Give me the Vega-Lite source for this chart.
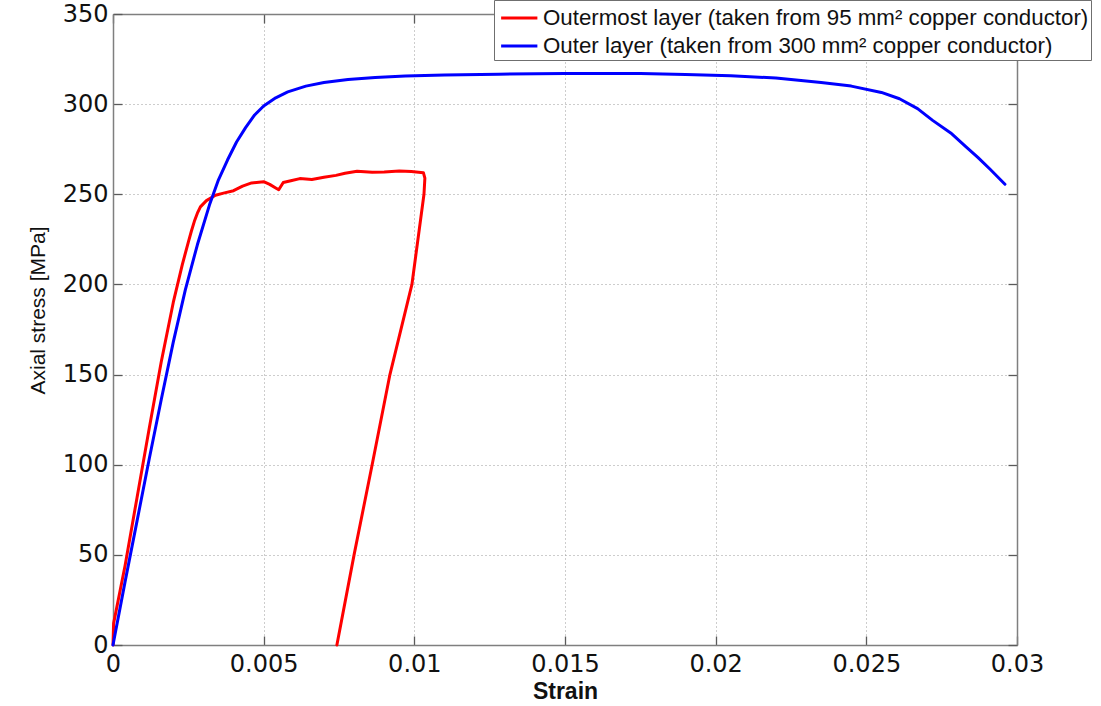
{
  "$schema": "https://vega.github.io/schema/vega-lite/v6.json",
  "width": 904,
  "height": 631,
  "autosize": {"type": "none"},
  "padding": {"left": 113, "top": 14, "right": 84, "bottom": 61},
  "background": "white",
  "config": {
    "view": {"stroke": null},
    "axis": {
      "domainColor": "#7f7f7f",
      "domainWidth": 1.5,
      "ticks": true,
      "tickColor": "#5a5a5a",
      "tickWidth": 1.3,
      "tickSize": -9,
      "gridColor": "#9a9a9a",
      "gridDash": [1, 3],
      "gridWidth": 1,
      "labelFont": "DejaVu Sans",
      "labelFontSize": 24,
      "labelColor": "#111111",
      "titleColor": "#111111"
    }
  },
  "datasets": {
    "outermost": [
      {"layer": "Outermost layer (taken from 95 mm² copper conductor)", "i": 0, "strain": 0, "stress": 0},
      {"layer": "Outermost layer (taken from 95 mm² copper conductor)", "i": 1, "strain": 0.00002, "stress": 12},
      {"layer": "Outermost layer (taken from 95 mm² copper conductor)", "i": 2, "strain": 0.0004, "stress": 44},
      {"layer": "Outermost layer (taken from 95 mm² copper conductor)", "i": 3, "strain": 0.0008, "stress": 82},
      {"layer": "Outermost layer (taken from 95 mm² copper conductor)", "i": 4, "strain": 0.0012, "stress": 120},
      {"layer": "Outermost layer (taken from 95 mm² copper conductor)", "i": 5, "strain": 0.0016, "stress": 157},
      {"layer": "Outermost layer (taken from 95 mm² copper conductor)", "i": 6, "strain": 0.002, "stress": 190},
      {"layer": "Outermost layer (taken from 95 mm² copper conductor)", "i": 7, "strain": 0.0023, "stress": 211},
      {"layer": "Outermost layer (taken from 95 mm² copper conductor)", "i": 8, "strain": 0.0025, "stress": 223.5},
      {"layer": "Outermost layer (taken from 95 mm² copper conductor)", "i": 9, "strain": 0.0026, "stress": 229.5},
      {"layer": "Outermost layer (taken from 95 mm² copper conductor)", "i": 10, "strain": 0.0027, "stress": 235},
      {"layer": "Outermost layer (taken from 95 mm² copper conductor)", "i": 11, "strain": 0.0028, "stress": 239.5},
      {"layer": "Outermost layer (taken from 95 mm² copper conductor)", "i": 12, "strain": 0.0029, "stress": 243},
      {"layer": "Outermost layer (taken from 95 mm² copper conductor)", "i": 13, "strain": 0.0031, "stress": 246.5},
      {"layer": "Outermost layer (taken from 95 mm² copper conductor)", "i": 14, "strain": 0.0034, "stress": 249.5},
      {"layer": "Outermost layer (taken from 95 mm² copper conductor)", "i": 15, "strain": 0.0037, "stress": 250.8},
      {"layer": "Outermost layer (taken from 95 mm² copper conductor)", "i": 16, "strain": 0.004, "stress": 252},
      {"layer": "Outermost layer (taken from 95 mm² copper conductor)", "i": 17, "strain": 0.0043, "stress": 254.5},
      {"layer": "Outermost layer (taken from 95 mm² copper conductor)", "i": 18, "strain": 0.0046, "stress": 256.3},
      {"layer": "Outermost layer (taken from 95 mm² copper conductor)", "i": 19, "strain": 0.005, "stress": 257},
      {"layer": "Outermost layer (taken from 95 mm² copper conductor)", "i": 20, "strain": 0.0052, "stress": 255.5},
      {"layer": "Outermost layer (taken from 95 mm² copper conductor)", "i": 21, "strain": 0.0054, "stress": 253.5},
      {"layer": "Outermost layer (taken from 95 mm² copper conductor)", "i": 22, "strain": 0.0055, "stress": 252.5},
      {"layer": "Outermost layer (taken from 95 mm² copper conductor)", "i": 23, "strain": 0.00565, "stress": 256.5},
      {"layer": "Outermost layer (taken from 95 mm² copper conductor)", "i": 24, "strain": 0.0059, "stress": 257.5},
      {"layer": "Outermost layer (taken from 95 mm² copper conductor)", "i": 25, "strain": 0.0062, "stress": 258.7},
      {"layer": "Outermost layer (taken from 95 mm² copper conductor)", "i": 26, "strain": 0.0066, "stress": 258.2},
      {"layer": "Outermost layer (taken from 95 mm² copper conductor)", "i": 27, "strain": 0.007, "stress": 259.4},
      {"layer": "Outermost layer (taken from 95 mm² copper conductor)", "i": 28, "strain": 0.0074, "stress": 260.5},
      {"layer": "Outermost layer (taken from 95 mm² copper conductor)", "i": 29, "strain": 0.0077, "stress": 261.7},
      {"layer": "Outermost layer (taken from 95 mm² copper conductor)", "i": 30, "strain": 0.0081, "stress": 262.8},
      {"layer": "Outermost layer (taken from 95 mm² copper conductor)", "i": 31, "strain": 0.0086, "stress": 262.2},
      {"layer": "Outermost layer (taken from 95 mm² copper conductor)", "i": 32, "strain": 0.009, "stress": 262.4},
      {"layer": "Outermost layer (taken from 95 mm² copper conductor)", "i": 33, "strain": 0.0095, "stress": 262.9},
      {"layer": "Outermost layer (taken from 95 mm² copper conductor)", "i": 34, "strain": 0.0099, "stress": 262.6},
      {"layer": "Outermost layer (taken from 95 mm² copper conductor)", "i": 35, "strain": 0.0103, "stress": 262},
      {"layer": "Outermost layer (taken from 95 mm² copper conductor)", "i": 36, "strain": 0.01035, "stress": 259},
      {"layer": "Outermost layer (taken from 95 mm² copper conductor)", "i": 37, "strain": 0.01032, "stress": 250},
      {"layer": "Outermost layer (taken from 95 mm² copper conductor)", "i": 38, "strain": 0.00992, "stress": 200},
      {"layer": "Outermost layer (taken from 95 mm² copper conductor)", "i": 39, "strain": 0.00919, "stress": 150},
      {"layer": "Outermost layer (taken from 95 mm² copper conductor)", "i": 40, "strain": 0.0086, "stress": 100},
      {"layer": "Outermost layer (taken from 95 mm² copper conductor)", "i": 41, "strain": 0.008, "stress": 50},
      {"layer": "Outermost layer (taken from 95 mm² copper conductor)", "i": 42, "strain": 0.00743, "stress": 0}
    ],
    "outer": [
      {"layer": "Outer layer (taken from 300 mm² copper conductor)", "i": 0, "strain": 0, "stress": 0},
      {"layer": "Outer layer (taken from 300 mm² copper conductor)", "i": 1, "strain": 0.0004, "stress": 35},
      {"layer": "Outer layer (taken from 300 mm² copper conductor)", "i": 2, "strain": 0.0008, "stress": 69},
      {"layer": "Outer layer (taken from 300 mm² copper conductor)", "i": 3, "strain": 0.0012, "stress": 103},
      {"layer": "Outer layer (taken from 300 mm² copper conductor)", "i": 4, "strain": 0.0016, "stress": 136},
      {"layer": "Outer layer (taken from 300 mm² copper conductor)", "i": 5, "strain": 0.002, "stress": 168},
      {"layer": "Outer layer (taken from 300 mm² copper conductor)", "i": 6, "strain": 0.0024, "stress": 197},
      {"layer": "Outer layer (taken from 300 mm² copper conductor)", "i": 7, "strain": 0.0028, "stress": 222},
      {"layer": "Outer layer (taken from 300 mm² copper conductor)", "i": 8, "strain": 0.0032, "stress": 244},
      {"layer": "Outer layer (taken from 300 mm² copper conductor)", "i": 9, "strain": 0.0035, "stress": 258},
      {"layer": "Outer layer (taken from 300 mm² copper conductor)", "i": 10, "strain": 0.0038, "stress": 269},
      {"layer": "Outer layer (taken from 300 mm² copper conductor)", "i": 11, "strain": 0.0041, "stress": 279},
      {"layer": "Outer layer (taken from 300 mm² copper conductor)", "i": 12, "strain": 0.0044, "stress": 287},
      {"layer": "Outer layer (taken from 300 mm² copper conductor)", "i": 13, "strain": 0.0047, "stress": 294},
      {"layer": "Outer layer (taken from 300 mm² copper conductor)", "i": 14, "strain": 0.005, "stress": 299},
      {"layer": "Outer layer (taken from 300 mm² copper conductor)", "i": 15, "strain": 0.0054, "stress": 303.5},
      {"layer": "Outer layer (taken from 300 mm² copper conductor)", "i": 16, "strain": 0.0058, "stress": 306.8},
      {"layer": "Outer layer (taken from 300 mm² copper conductor)", "i": 17, "strain": 0.0064, "stress": 310},
      {"layer": "Outer layer (taken from 300 mm² copper conductor)", "i": 18, "strain": 0.007, "stress": 312},
      {"layer": "Outer layer (taken from 300 mm² copper conductor)", "i": 19, "strain": 0.0078, "stress": 313.7},
      {"layer": "Outer layer (taken from 300 mm² copper conductor)", "i": 20, "strain": 0.0087, "stress": 314.8},
      {"layer": "Outer layer (taken from 300 mm² copper conductor)", "i": 21, "strain": 0.0097, "stress": 315.6},
      {"layer": "Outer layer (taken from 300 mm² copper conductor)", "i": 22, "strain": 0.011, "stress": 316.1},
      {"layer": "Outer layer (taken from 300 mm² copper conductor)", "i": 23, "strain": 0.0128, "stress": 316.6},
      {"layer": "Outer layer (taken from 300 mm² copper conductor)", "i": 24, "strain": 0.015, "stress": 317},
      {"layer": "Outer layer (taken from 300 mm² copper conductor)", "i": 25, "strain": 0.0175, "stress": 317},
      {"layer": "Outer layer (taken from 300 mm² copper conductor)", "i": 26, "strain": 0.019, "stress": 316.5},
      {"layer": "Outer layer (taken from 300 mm² copper conductor)", "i": 27, "strain": 0.0205, "stress": 315.8},
      {"layer": "Outer layer (taken from 300 mm² copper conductor)", "i": 28, "strain": 0.022, "stress": 314.5},
      {"layer": "Outer layer (taken from 300 mm² copper conductor)", "i": 29, "strain": 0.0235, "stress": 312},
      {"layer": "Outer layer (taken from 300 mm² copper conductor)", "i": 30, "strain": 0.0245, "stress": 310},
      {"layer": "Outer layer (taken from 300 mm² copper conductor)", "i": 31, "strain": 0.0255, "stress": 306.5},
      {"layer": "Outer layer (taken from 300 mm² copper conductor)", "i": 32, "strain": 0.0261, "stress": 303},
      {"layer": "Outer layer (taken from 300 mm² copper conductor)", "i": 33, "strain": 0.0267, "stress": 297.5},
      {"layer": "Outer layer (taken from 300 mm² copper conductor)", "i": 34, "strain": 0.0272, "stress": 291},
      {"layer": "Outer layer (taken from 300 mm² copper conductor)", "i": 35, "strain": 0.0278, "stress": 284},
      {"layer": "Outer layer (taken from 300 mm² copper conductor)", "i": 36, "strain": 0.0283, "stress": 276.5},
      {"layer": "Outer layer (taken from 300 mm² copper conductor)", "i": 37, "strain": 0.0287, "stress": 270.5},
      {"layer": "Outer layer (taken from 300 mm² copper conductor)", "i": 38, "strain": 0.0291, "stress": 264},
      {"layer": "Outer layer (taken from 300 mm² copper conductor)", "i": 39, "strain": 0.0296, "stress": 255.6}
    ]
  },
  "layer": [
    {
      "data": {"name": "outermost"},
      "mark": {"type": "line", "strokeWidth": 3, "strokeJoin": "round", "strokeCap": "round"},
      "encoding": {
        "x": {
          "field": "strain", "type": "quantitative",
          "scale": {"domain": [0, 0.03], "nice": false, "zero": false},
          "axis": {
            "orient": "bottom",
            "title": "Strain",
            "titleFont": "Liberation Sans",
            "titleFontSize": 23,
            "titleFontWeight": "bold",
            "titlePadding": 4,
            "values": [0, 0.005, 0.01, 0.015, 0.02, 0.025, 0.03],
            "format": "~g",
            "grid": true,
            "ticks": true,
            "tickSize": -9,
            "labelPadding": 16,
            "labelFlush": false,
            "labelOverlap": false
          }
        },
        "y": {
          "field": "stress", "type": "quantitative",
          "scale": {"domain": [0, 350], "nice": false},
          "axis": {
            "orient": "left",
            "title": "Axial stress [MPa]",
            "titleFont": "Liberation Sans",
            "titleFontSize": 21,
            "titleFontWeight": "normal",
            "titleAngle": -90,
            "titleX": -75,
            "titleY": 296,
            "titleAlign": "center",
            "titleBaseline": "middle",
            "values": [0, 50, 100, 150, 200, 250, 300, 350],
            "grid": true,
            "ticks": true,
            "tickSize": -9,
            "labelPadding": 14,
            "labelFlush": false,
            "labelOverlap": false
          }
        },
        "order": {"field": "i", "type": "quantitative"},
        "color": {
          "field": "layer", "type": "nominal",
          "scale": {
            "domain": ["Outermost layer (taken from 95 mm² copper conductor)", "Outer layer (taken from 300 mm² copper conductor)"],
            "range": ["#ff0000", "#0000ff"]
          },
          "legend": {
            "title": null,
            "orient": "none",
            "legendX": 381,
            "legendY": -14,
            "direction": "vertical",
            "fillColor": "white",
            "strokeColor": "#6f6f6f",
            "padding": 2,
            "rowPadding": 0,
            "symbolType": "M-0.75,0H1.75",
            "symbolSize": 841,
            "symbolStrokeWidth": 3,
            "labelFont": "Liberation Sans",
            "labelFontSize": 22.3,
            "labelColor": "#111111",
            "labelLimit": 800,
            "labelOffset": 15
          }
        }
      }
    },
    {
      "data": {"name": "outer"},
      "mark": {"type": "line", "strokeWidth": 3, "strokeJoin": "round", "strokeCap": "round"},
      "encoding": {
        "x": {
          "field": "strain", "type": "quantitative",
          "axis": {
            "orient": "top",
            "title": null,
            "labels": false,
            "grid": false,
            "ticks": true,
            "tickSize": -9,
            "values": [0, 0.005, 0.01, 0.015, 0.02, 0.025, 0.03]
          }
        },
        "y": {
          "field": "stress", "type": "quantitative",
          "axis": {
            "orient": "right",
            "title": null,
            "labels": false,
            "grid": false,
            "ticks": true,
            "tickSize": -9,
            "values": [0, 50, 100, 150, 200, 250, 300, 350]
          }
        },
        "order": {"field": "i", "type": "quantitative"},
        "color": {"field": "layer", "type": "nominal"}
      }
    }
  ]
}
